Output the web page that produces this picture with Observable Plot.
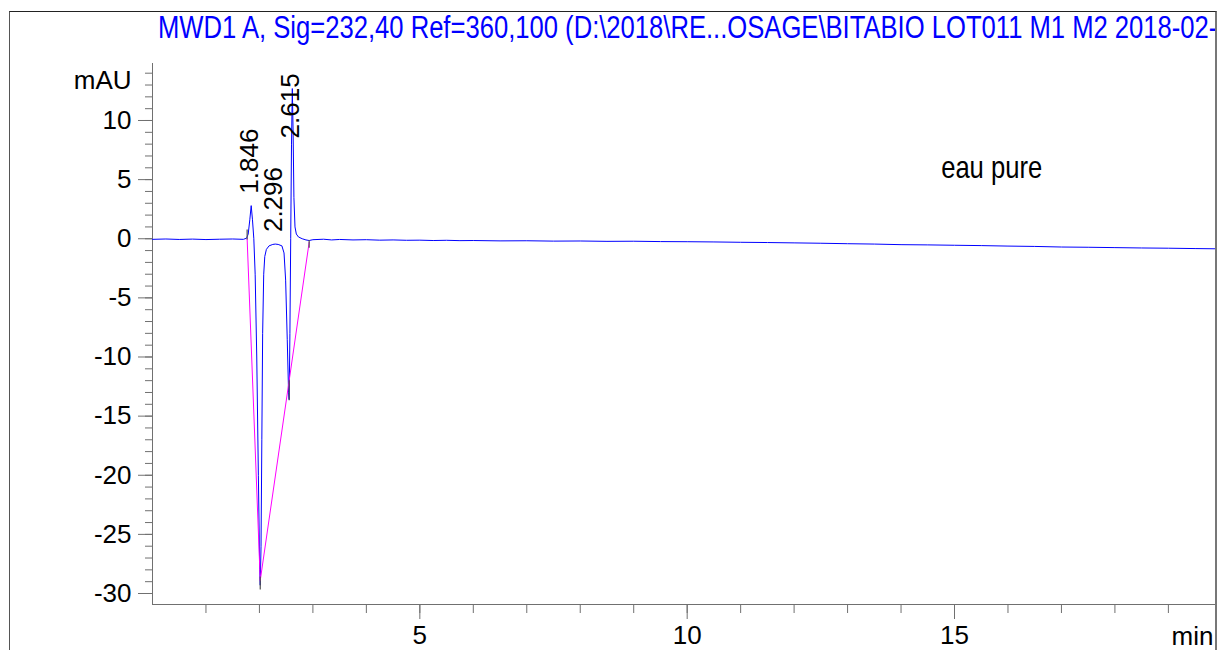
<!DOCTYPE html>
<html><head><meta charset="utf-8">
<script src="https://cdn.jsdelivr.net/npm/d3@7"></script>
<script src="https://cdn.jsdelivr.net/npm/@observablehq/plot@0.6"></script>
<style>
html,body{margin:0;padding:0;background:#fff;}
#wrap{position:relative;width:1219px;height:650px;overflow:hidden;background:#fff;font-family:"Liberation Sans",Arial,sans-serif;}
#chart{position:absolute;left:0;top:0;}
#frame{position:absolute;left:9px;top:11px;width:1205px;height:700px;border-left:1px solid #555;border-top:1px solid #222;border-right:2px solid #777;overflow:hidden;pointer-events:none;}
#title{position:absolute;left:148px;top:0px;white-space:nowrap;font-size:31px;line-height:31px;color:#0000ff;transform:scaleX(0.826);transform-origin:0 0;}
</style></head><body>
<div id="wrap"><div id="chart"></div><div id="frame"><div id="title">MWD1 A, Sig=232,40 Ref=360,100 (D:\2018\RE...OSAGE\BITABIO LOT011 M1 M2 2018-02-</div></div></div>
<script>
// retention time (min)
const times = [
  0, 0.25, 0.5, 0.75, 1.0, 1.25, 1.5, 1.7,
  1.76, 1.79, 1.82, 1.846, 1.87, 1.895,
  1.92, 1.95, 1.98, 2.005, 2.015, 2.03, 2.045, 2.06, 2.08, 2.10, 2.13,
  2.18, 2.25, 2.296, 2.35, 2.42,
  2.46, 2.49, 2.52, 2.545, 2.556, 2.57, 2.585, 2.60, 2.615, 2.63, 2.645, 2.665, 2.69, 2.73,
  2.8, 2.87, 2.93, 3.0, 3.2, 3.35, 3.5, 3.75,
  4.0, 4.25, 4.5, 4.75, 5.0, 5.25, 5.5, 5.75,
  6.0, 6.5, 7.0, 7.5, 8.0, 8.5, 9.0, 9.5,
  10.0, 10.5, 11.0, 11.5, 12.0, 12.5, 13.0, 13.5,
  14.0, 14.5, 15.0, 15.5, 16.0, 16.5, 17.0, 17.5,
  18.0, 18.5, 19.0, 19.5, 19.9
];
// detector signal (mAU)
const signal = [
  -0.05, -0.02, -0.06, -0.03, -0.07, -0.04, -0.02, -0.05,
  0.05, 0.4, 1.6, 2.8, 1.6, 0.0,
  -3, -10, -20, -28, -29.3, -26, -17, -8, -3, -1.5, -0.9,
  -0.6, -0.48, -0.45, -0.48, -0.6,
  -1.2, -3.5, -8.5, -13.0, -13.6, -8, 0, 8, 12.7, 9, 3.5, 1.0, 0.4, 0.15,
  0.0, -0.1, -0.15, -0.08, -0.04, -0.1, -0.06, -0.1,
  -0.08, -0.12, -0.1, -0.13, -0.12, -0.15, -0.13, -0.16,
  -0.15, -0.18, -0.17, -0.2, -0.19, -0.22, -0.21, -0.24,
  -0.25, -0.27, -0.3, -0.32, -0.35, -0.38, -0.42, -0.45,
  -0.5, -0.52, -0.55, -0.58, -0.62, -0.65, -0.7, -0.72,
  -0.75, -0.78, -0.8, -0.83, -0.85
];
// peaks
const peakTimes = [1.846, 2.296, 2.615];
const peakApex = [2.8, -0.45, 12.7];
const peakLabels = ["1.846", "2.296", "2.615"];
// integration baselines
const baseTimes = [1.77, 2.015, 2.015, 2.93];
const baseValues = [0.0, -28.9, -28.9, -0.3];
const baseSegment = [0, 0, 1, 1];
// peak start/end markers
const markTimes = [1.77, 2.015, 2.556, 2.93];
const markTop = [0.75, -28.6, -12.0, -0.15];
const markBottom = [-0.1, -29.7, -13.7, -0.8];
// axes
const xDomain = [0, 19.9];
const yDomain = [-30.93, 14.82];
const xMajor = [5, 10, 15];
const xMinor = d3.range(1, 20);
const yMajor = [-30, -25, -20, -15, -10, -5, 0, 5, 10];
const yMinor = d3.range(-30, 15);
const sampleName = "eau pure";
const sampleAt = {t: 14.75, v: 5.1};

const data = times.map((t, i) => ({t, v: signal[i]}));
const peaks = peakTimes.map((t, i) => ({t, apex: peakApex[i], label: peakLabels[i]}));
const bases = baseTimes.map((t, i) => ({t, v: baseValues[i], seg: baseSegment[i]}));
const marks = markTimes.map((t, i) => ({t, top: markTop[i], bottom: markBottom[i]}));
const labelCeil = 7.47;
const axisColor = "#707070";
const fmt = d => String(d);

const plot = Plot.plot({
  width: 1219, height: 650,
  marginLeft: 152, marginRight: 3, marginTop: 63, marginBottom: 46,
  x: {domain: xDomain, axis: null},
  y: {domain: yDomain, axis: null},
  style: {fontFamily: '"Liberation Sans", Arial, sans-serif', fontSize: "26px", background: "transparent", overflow: "visible", color: "black"},
  marks: [
    Plot.ruleX([xDomain[0]], {stroke: axisColor}),
    Plot.ruleY([yDomain[0]], {stroke: axisColor}),
    Plot.axisY(yMinor, {tickSize: 7, text: null, stroke: axisColor, label: null}),
    Plot.axisY(yMajor, {tickSize: 14, tickPadding: 7, tickFormat: fmt, stroke: axisColor, fill: "black", fontSize: 26, label: null}),
    Plot.axisX(xMinor, {tickSize: 9, text: null, stroke: axisColor, label: null}),
    Plot.axisX(xMajor, {tickSize: 15, tickPadding: 6, tickFormat: fmt, stroke: axisColor, fill: "black", fontSize: 26, label: null}),
    Plot.line(data, {x: "t", y: "v", stroke: "#0000ff", strokeWidth: 1}),
    Plot.line(bases, {x: "t", y: "v", z: "seg", stroke: "#ff00ff", strokeWidth: 1}),
    Plot.ruleX(marks, {x: "t", y1: "top", y2: "bottom", stroke: "#505050", strokeWidth: 1.2}),
    Plot.text(peaks, {x: "t", y: d => Math.min(d.apex, labelCeil), text: "label", rotate: -90, textAnchor: "start", lineAnchor: "middle", dx: -2, dy: -12, fontSize: 26, fill: "black"}),
    Plot.text([sampleName], {x: () => sampleAt.t, y: () => sampleAt.v, text: d => d, textAnchor: "start", lineAnchor: "bottom", fontSize: 32, fill: "black"}),
    Plot.text(["mAU"], {frameAnchor: "top-left", text: d => d, textAnchor: "end", lineAnchor: "bottom", dx: -21, dy: 25, fontSize: 26, fill: "black"}),
    Plot.text(["min"], {frameAnchor: "bottom-right", text: d => d, textAnchor: "end", lineAnchor: "bottom", dx: -3, dy: 40, fontSize: 26, fill: "black"})
  ]
});
document.getElementById("chart").appendChild(plot);
plot.querySelectorAll("text").forEach(el => {
  if (el.textContent !== sampleName) return;
  const tr = el.getAttribute("transform");
  if (tr) el.setAttribute("transform", tr + " scale(0.8,1)");
  else {
    const x = +el.getAttribute("x") || 0, y = +el.getAttribute("y") || 0;
    el.setAttribute("x", 0); el.setAttribute("y", 0);
    el.setAttribute("transform", `translate(${x},${y}) scale(0.8,1)`);
  }
});
</script>
</body></html>
